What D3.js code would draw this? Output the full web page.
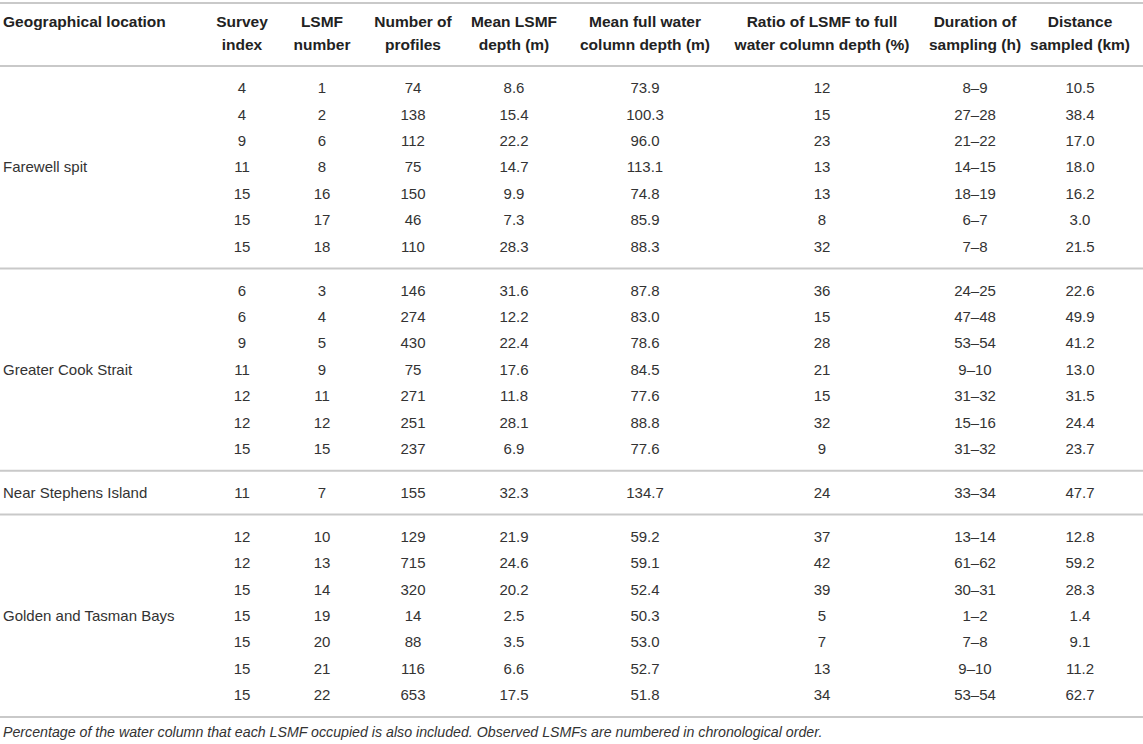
<!DOCTYPE html>
<html>
<head>
<meta charset="utf-8">
<script src="https://cdn.jsdelivr.net/npm/d3@7"></script>
<style>
  body { margin: 0; background: #fff; }
  svg { display: block; }
</style>
</head>
<body>
<script>

// table values, one array per column
var groupNames = ["Farewell spit", "Greater Cook Strait", "Near Stephens Island", "Golden and Tasman Bays"];
var groupSizes = [7, 7, 1, 7];
var surveyIndex = [4, 4, 9, 11, 15, 15, 15,  6, 6, 9, 11, 12, 12, 15,  11,  12, 12, 15, 15, 15, 15, 15];
var lsmfNumber = [1, 2, 6, 8, 16, 17, 18,  3, 4, 5, 9, 11, 12, 15,  7,  10, 13, 14, 19, 20, 21, 22];
var profiles = [74, 138, 112, 75, 150, 46, 110,  146, 274, 430, 75, 271, 251, 237,  155,  129, 715, 320, 14, 88, 116, 653];
var meanDepth = ["8.6", "15.4", "22.2", "14.7", "9.9", "7.3", "28.3",
                 "31.6", "12.2", "22.4", "17.6", "11.8", "28.1", "6.9",
                 "32.3",
                 "21.9", "24.6", "20.2", "2.5", "3.5", "6.6", "17.5"];
var fullDepth = ["73.9", "100.3", "96.0", "113.1", "74.8", "85.9", "88.3",
                 "87.8", "83.0", "78.6", "84.5", "77.6", "88.8", "77.6",
                 "134.7",
                 "59.2", "59.1", "52.4", "50.3", "53.0", "52.7", "51.8"];
var ratio = [12, 15, 23, 13, 13, 8, 32,  36, 15, 28, 21, 15, 32, 9,  24,  37, 42, 39, 5, 7, 13, 34];
var duration = ["8–9", "27–28", "21–22", "14–15", "18–19", "6–7", "7–8",
                "24–25", "47–48", "53–54", "9–10", "31–32", "15–16", "31–32",
                "33–34",
                "13–14", "61–62", "30–31", "1–2", "7–8", "9–10", "53–54"];
var distance = ["10.5", "38.4", "17.0", "18.0", "16.2", "3.0", "21.5",
                "22.6", "49.9", "41.2", "13.0", "31.5", "24.4", "23.7",
                "47.7",
                "12.8", "59.2", "28.3", "1.4", "9.1", "11.2", "62.7"];

var headers = [
    ["Geographical location"],
    ["Survey", "index"],
    ["LSMF", "number"],
    ["Number of", "profiles"],
    ["Mean LSMF", "depth (m)"],
    ["Mean full water", "column depth (m)"],
    ["Ratio of LSMF to full", "water column depth (%)"],
    ["Duration of", "sampling (h)"],
    ["Distance", "sampled (km)"]
];
var caption = "Percentage of the water column that each LSMF occupied is also included. Observed LSMFs are numbered in chronological order.";

var w = 1143;
var h = 744;
var font = "'Liberation Sans', Arial, Helvetica, sans-serif";
var lineColor = "#c9c9c9";

// x centre of each numeric column
var colX = [3, 242, 322, 413, 514, 645, 822, 975, 1080];

var svg = d3.select("body")
    .append("svg")
    .attr("width", w)
    .attr("height", h)
    .style("font-family", font);

// rows: each row is one unit, every group gets a little padding
var pad = 0.66;
var rows = [];
var groupTops = [];
var u = 0, r = 0;
groupSizes.forEach(function(n, g) {
    groupTops.push(u);
    for (var i = 0; i < n; i++) {
        rows.push({
            pos: u + pad / 2 + i + 0.5,
            cells: [surveyIndex[r], lsmfNumber[r], profiles[r], meanDepth[r], fullDepth[r], ratio[r], duration[r], distance[r]]
        });
        r++;
    }
    u += n + pad;
});
groupTops.push(u);

var yScale = d3.scaleLinear()
    .domain([0, u])
    .range([66, 717]);

// rules
var rules = [3, 66].concat(groupTops.slice(1).map(function(d) { return yScale(d); }));
svg.selectAll("line.rule")
    .data(rules)
    .enter()
    .append("line")
    .attr("class", "rule")
    .attr("x1", 0)
    .attr("x2", w)
    .attr("y1", function(d) { return d; })
    .attr("y2", function(d) { return d; })
    .attr("stroke", lineColor)
    .attr("stroke-width", 2);

// header
var head = svg.selectAll("text.head")
    .data(headers)
    .enter()
    .append("text")
    .attr("class", "head")
    .attr("text-anchor", function(d, i) { return i == 0 ? "start" : "middle"; })
    .attr("font-weight", "bold")
    .attr("font-size", 15.5)
    .attr("fill", "#222");
head.selectAll("tspan")
    .data(function(d, i) { return d.map(function(t) { return {t: t, col: i}; }); })
    .enter()
    .append("tspan")
    .attr("x", function(d) { return colX[d.col]; })
    .attr("y", function(d, j) { return 22 + j * 23; })
    .attr("dy", "0.35em")
    .text(function(d) { return d.t; });

// group labels, on the middle row of each group
svg.selectAll("text.group")
    .data(groupNames)
    .enter()
    .append("text")
    .attr("class", "group")
    .attr("x", colX[0])
    .attr("y", function(d, i) {
        return yScale(groupTops[i] + pad / 2 + groupSizes[i] / 2);
    })
    .attr("dy", "0.35em")
    .attr("font-size", 15)
    .attr("fill", "#333")
    .text(function(d) { return d; });

// body cells
var rowG = svg.selectAll("g.row")
    .data(rows)
    .enter()
    .append("g")
    .attr("class", "row")
    .attr("transform", function(d) { return "translate(0," + yScale(d.pos) + ")"; });
rowG.selectAll("text")
    .data(function(d) { return d.cells; })
    .enter()
    .append("text")
    .attr("x", function(d, i) { return colX[i + 1]; })
    .attr("dy", "0.35em")
    .attr("text-anchor", "middle")
    .attr("font-size", 15)
    .attr("fill", "#333")
    .text(function(d) { return d; });

svg.append("text")
    .attr("x", 3)
    .attr("y", 732)
    .attr("dy", "0.35em")
    .attr("font-size", 14.2)
    .attr("font-style", "italic")
    .attr("fill", "#333")
    .text(caption);

</script>
</body>
</html>
